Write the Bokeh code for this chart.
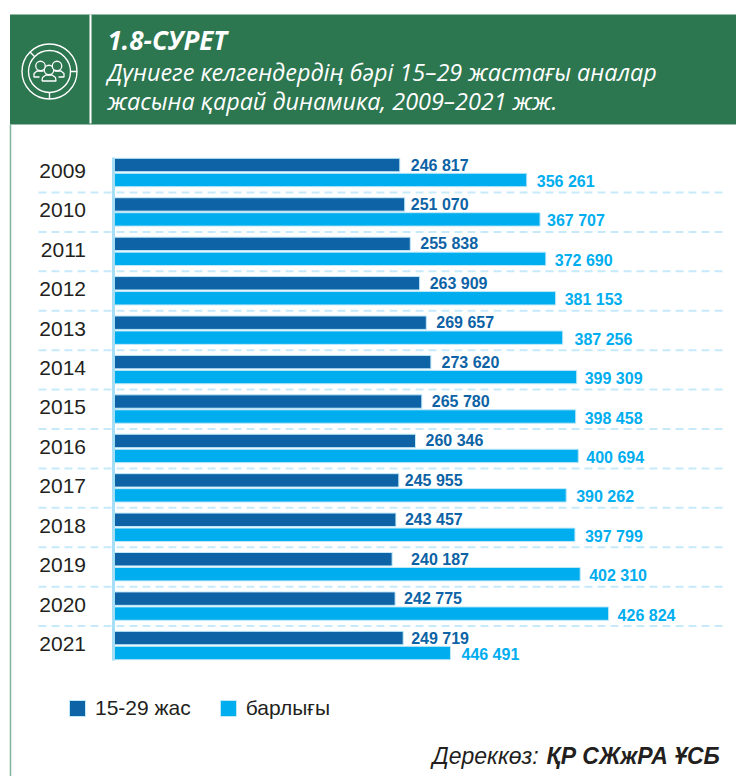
from bokeh.plotting import figure
from bokeh.models import Range1d, LinearAxis, FixedTicker, Legend, LegendItem, ColumnDataSource
from bokeh.core.properties import value
from bokeh.embed import file_html
from bokeh.resources import INLINE

years = [2009, 2010, 2011, 2012, 2013, 2014, 2015, 2016, 2017, 2018, 2019, 2020, 2021]
age_15_29 = [246817, 251070, 255838, 263909, 269657, 273620, 265780, 260346, 245955, 243457, 240187, 242775, 249719]
total = [356261, 367707, 372690, 381153, 387256, 399309, 398458, 400694, 390262, 397799, 402310, 426824, 446491]
# The reference draws the 2021 total bar far shorter than its printed value.
total_drawn = [356261, 367707, 372690, 381153, 387256, 399309, 398458, 400694, 390262, 397799, 402310, 426824, 290500]
series_names = ["15-29 жас", "барлығы"]
title_lines = ["1.8-СУРЕТ", "Дүниеге келгендердің бәрі 15–29 жастағы аналар", "жасына қарай динамика, 2009–2021 жж."]

gap_age = [11, 6, 10, 10, 10, 10.6, 10, 10, 6, 9, 19, 9, 8]
gap_total = [10, 7, 9, 9, 11.8, 8, 9, 8, 10, 10, 9, 9, 11]

W, H = 736, 776
PX_PER_UNIT = 0.00116
ROW = 39.42
def X(px): return (px - 113) / PX_PER_UNIT
def Y(py): return (py - 172) / ROW
def fmt(v): return f"{v:,}".replace(",", " ")

DARK, LIGHT, GREEN = "#0d63a5", "#00aeef", "#2c7650"
EDGE, DASH, INK = "#bfe8f9", "#c6eafa", "#231f20"

p = figure(width=W, height=H, output_backend="svg", toolbar_location=None, min_border=0,
           x_axis_type=None, y_axis_type=None,
           x_range=Range1d(X(0), X(W)), y_range=Range1d(Y(H), Y(0)))
p.outline_line_color = None
p.xgrid.visible = False
p.ygrid.visible = False
p.background_fill_color = "white"

# header
p.quad(left=[X(9.5)], right=[X(736)], top=[Y(14)], bottom=[Y(124)], fill_color=GREEN, line_color=None)
p.segment([X(10)], [Y(124)], [X(10)], [Y(776)], line_color="#7fb59b", line_width=1.5)
p.segment([X(90)], [Y(14)], [X(90)], [Y(123)], line_color="white", line_width=2)

# icon
cx, cy = 49, 71
p.scatter([X(cx)], [Y(cy)], size=55, marker="circle", fill_color=None, line_color="white", line_width=1.4)
p.scatter([X(cx)], [Y(cy)], size=42, marker="circle", fill_color=None, line_color="white", line_width=1.4)
p.multi_line(
    [[X(cx), X(cx)], [X(cx + 21), X(cx + 27.5)], [X(cx - 15), X(cx - 19.5)]],
    [[Y(cy + 21), Y(cy + 27.5)], [Y(cy), Y(cy)], [Y(cy - 15), Y(cy - 19.5)]],
    line_color="white", line_width=1.4)
p.scatter([X(48.5), X(40), X(56.5)], [Y(69.5), Y(65.5), Y(65.5)], size=9.5, marker="circle",
          fill_color=GREEN, line_color="white", line_width=1.3)
shoulders_x = [[41.5, 42, 45.5, 51.5, 55, 55.5, 41.5], [39, 33.5, 33.5, 36.5, 43],
               [58, 63.5, 63.5, 60.5, 54]]
shoulders_y = [[80.5, 77, 74.5, 74.5, 77, 80.5, 80.5], [76.5, 76.5, 73, 70.5, 70.5],
               [76.5, 76.5, 73, 70.5, 70.5]]
p.multi_line([[X(v) for v in s] for s in shoulders_x], [[Y(v) for v in s] for s in shoulders_y],
             line_color="white", line_width=1.3)

# title
TFONT = value("Open Sans")
p.text([X(107)], [Y(39)], text=[title_lines[0]], text_font=TFONT, text_font_style="bold italic",
       text_font_size="26px", text_color="white", text_baseline="middle")
p.text([X(107), X(107)], [Y(71), Y(100)], text=title_lines[1:], text_font=TFONT, text_font_style="italic",
       text_font_size="23.4px", text_color="white", text_baseline="middle")

# separators
idx = list(range(len(years)))
p.segment([X(38)] * 12, [i + 0.507 for i in idx[:-1]], [X(726)] * 12, [i + 0.507 for i in idx[:-1]],
          line_color=DASH, line_width=2, line_dash="8 5")

# bars
src = ColumnDataSource(dict(
    y_age=[i - 0.19 for i in idx], y_total=[i + 0.19 for i in idx],
    age=age_15_29, total=total_drawn,
    age_label=[fmt(v) for v in age_15_29], total_label=[fmt(v) for v in total],
    gap_age=gap_age, gap_total=gap_total))
r_age = p.hbar(y="y_age", left=0, right="age", height=0.34, source=src, fill_color=DARK, line_color=EDGE, line_width=1)
r_total = p.hbar(y="y_total", left=0, right="total", height=0.34, source=src, fill_color=LIGHT, line_color=EDGE, line_width=1)

LFONT = value("Liberation Sans")
p.text(x="age", y="y_age", text="age_label", x_offset="gap_age", source=src, text_font=LFONT,
       text_font_style="bold", text_font_size="16px", text_color=DARK, text_baseline="middle")
p.text(x="total", y="y_total", text="total_label", x_offset="gap_total", y_offset=1.5, source=src, text_font=LFONT,
       text_font_style="bold", text_font_size="16px", text_color=LIGHT, text_baseline="middle")

# axis with years
ticks = [i - 0.04 for i in idx]
axis = LinearAxis(ticker=FixedTicker(ticks=ticks), major_label_overrides={t: str(y) for t, y in zip(ticks, years)},
                  fixed_location=X(112.5), bounds=(Y(157), Y(660)))
axis.axis_line_color = "#a5def5"
axis.axis_line_width = 3
axis.major_tick_line_color = None
axis.minor_tick_line_color = None
axis.major_label_standoff = 21
axis.major_label_text_font = "Liberation Sans"
axis.major_label_text_font_size = "21px"
axis.major_label_text_color = INK
p.add_layout(axis, "left")

# legend
legend = Legend(items=[LegendItem(label=series_names[0], renderers=[r_age]),
                       LegendItem(label=series_names[1], renderers=[r_total])],
                orientation="horizontal", location=(67, 56), background_fill_alpha=0, border_line_color=None,
                padding=0, margin=0, spacing=27, glyph_width=20, glyph_height=20, label_standoff=8,
                label_text_font="Liberation Sans", label_text_font_size="21px", label_text_color=INK)
p.add_layout(legend)

# source
p.text([X(432)], [Y(755)], text=["Дереккөз:"], text_font=LFONT, text_font_style="italic",
       text_font_size="23px", text_color=INK, text_baseline="middle")
p.text([X(546)], [Y(755)], text=["ҚР СЖжРА ҰСБ"], text_font=LFONT, text_font_style="bold italic",
       text_font_size="23px", text_color=INK, text_baseline="middle")

open("out.html", "w").write(file_html(p, INLINE))
